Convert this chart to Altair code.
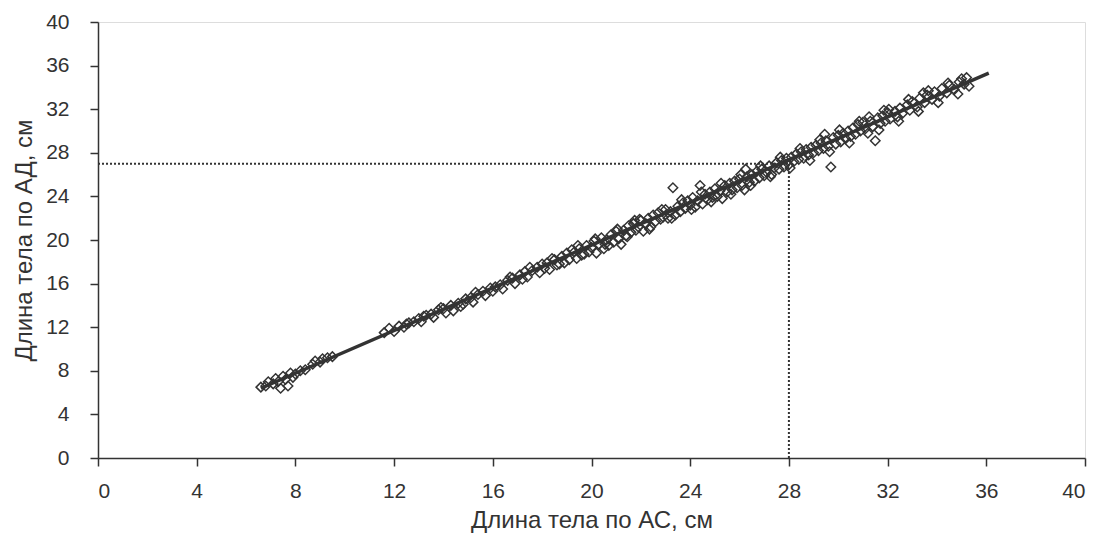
import altair as alt
import pandas as pd

# scatter points: length by AC (x), length by AD (y), cm
pts_x = [
    6.6, 6.8, 6.9, 7.1, 7.2, 7.3, 7.4, 7.5, 7.6, 7.7, 7.8, 7.9, 8.0, 8.2, 8.4, 8.7, 8.8, 9.0, 9.1, 9.3, 9.5,
    11.6, 11.8, 12.0, 12.2, 12.4, 12.6, 12.8, 13.0, 13.1, 13.3, 13.5, 13.6, 13.8, 14.0, 14.1, 14.3, 14.4, 14.6,
    14.7, 14.9, 15.1, 15.2, 15.4, 15.6, 15.7, 15.9, 16.1, 16.3, 16.4, 16.6, 16.8, 16.9, 17.1, 17.3, 17.4, 17.6,
    17.8, 17.9, 18.0,
    18.2, 18.3, 18.5, 18.6, 18.8, 18.9, 19.0, 19.1, 19.3, 19.4, 19.5, 19.6, 19.8, 19.9, 20.0, 20.1, 20.2, 20.3,
    20.4, 20.5, 20.6, 20.7, 20.8, 20.9, 21.0, 21.1, 21.2, 21.3, 21.4, 21.5, 21.6, 21.7, 21.8, 21.9, 22.0, 22.1,
    22.2, 22.3, 22.4, 22.5, 22.6, 22.7, 22.8, 22.9, 23.0, 23.1, 23.2, 23.3, 23.4, 23.5, 23.6, 23.7, 23.8, 23.9,
    24.0,
    24.1, 24.2, 24.3, 24.4, 24.5, 24.6, 24.7, 24.8, 24.9, 25.0, 25.1, 25.2, 25.3, 25.4, 25.5, 25.6, 25.7, 25.8,
    25.9, 26.0, 26.1, 26.2, 26.3, 26.4, 26.5, 26.6, 26.7, 26.8, 26.9, 27.0, 27.1, 27.2, 27.3, 27.4, 27.5, 27.6,
    27.7, 27.8, 27.9, 28.0, 28.1, 28.2, 28.3, 28.4, 28.5, 28.6, 28.7, 28.8, 28.9, 29.0, 29.1, 29.2, 29.3, 29.4,
    29.5, 29.6, 29.7, 29.8, 29.9, 30.0,
    30.1, 30.2, 30.3, 30.4, 30.5, 30.6, 30.7, 30.8, 30.9, 31.0, 31.1, 31.2, 31.3, 31.4, 31.5, 31.6, 31.7, 31.8,
    31.9, 32.0, 32.1, 32.3, 32.4, 32.5, 32.6, 32.8, 32.9, 33.0, 33.2, 33.3, 33.5, 33.6, 33.8, 33.9, 34.1, 34.2,
    34.4, 34.5, 34.7, 34.9, 35.1, 35.2, 35.3,
    12.5, 13.2, 13.9, 14.8, 15.3, 16.0, 16.7, 17.2, 18.1, 18.4, 18.7, 19.2, 19.7, 20.15, 20.55, 21.05, 21.45,
    21.95, 22.35, 22.85, 23.25, 23.65, 24.05, 24.45, 24.85, 25.25, 25.65, 26.05, 26.45, 26.85, 27.25, 27.65,
    28.05, 28.45, 28.85, 29.25, 29.65, 30.05, 30.45, 30.85, 31.25, 31.65, 32.05, 32.45, 32.85, 33.25, 33.65,
    34.05, 34.45, 34.85, 35.0, 17.5, 19.45, 21.75, 26.25, 29.45, 31.85, 33.45,
]
pts_y = [
    6.5, 6.6, 7.0, 6.8, 7.3, 7.0, 6.4, 7.5, 7.2, 6.6, 7.8, 7.4, 7.7, 8.0, 8.1, 8.6, 8.9, 8.8, 9.1, 9.2, 9.3,
    11.5, 11.9, 11.6, 12.1, 12.0, 12.4, 12.5, 12.8, 12.5, 13.1, 13.2, 12.9, 13.6, 13.7, 13.3, 14.0, 13.5, 14.2,
    13.9, 14.6, 14.7, 14.3, 15.0, 15.3, 14.9, 15.6, 15.7, 15.9, 15.5, 16.3, 16.5, 16.0, 16.8, 17.1, 16.6, 17.2,
    17.5, 17.0, 17.8,
    17.9, 17.3, 18.2, 17.7, 18.5, 17.9, 18.8, 18.2, 18.9, 18.3, 19.2, 18.6, 19.5, 18.9, 19.3, 19.9, 18.8, 19.6,
    20.2, 19.2, 20.0, 19.5, 20.5, 19.8, 20.8, 20.1, 19.6, 20.9, 20.4, 21.3, 20.7, 21.5, 20.9, 21.2, 21.8, 20.8,
    21.5, 22.0, 21.2, 22.3, 21.7, 22.5, 21.9, 22.1, 22.8, 22.0, 22.6, 24.8, 22.3, 23.1, 22.6, 23.4, 22.9, 23.6,
    23.2,
    23.9, 23.0, 23.6, 25.0, 23.3, 24.2, 23.7, 24.4, 23.9, 24.7, 24.0, 24.5, 23.8, 25.0, 24.4, 25.2, 24.6, 25.4,
    24.8, 25.6, 25.0, 24.6, 25.8, 25.3, 26.0, 25.4, 26.3, 25.7, 26.5, 25.9, 26.2, 26.8, 26.0, 26.6, 27.1, 26.5,
    27.3, 26.7, 27.5, 26.9, 27.6, 27.2, 27.9, 27.4, 28.1, 27.5, 28.3, 27.8, 28.5, 28.0, 28.7, 28.2, 28.9, 28.4,
    29.1, 28.6, 26.7, 29.4, 28.8, 29.6,
    29.0, 29.8, 29.3, 30.0, 29.5, 30.3, 29.7, 30.6, 30.0, 30.8, 30.2, 29.8, 30.9, 30.4, 29.1, 31.2, 30.7, 31.4,
    30.9, 31.7, 31.1, 31.8, 31.3, 32.1, 31.6, 32.4, 31.9, 32.7, 32.2, 33.0, 32.6, 33.3, 32.9, 33.6, 33.2, 33.9,
    33.5, 34.2, 33.8, 34.5, 34.3, 34.9, 34.1,
    12.3, 13.0, 13.8, 14.1, 15.2, 15.3, 16.6, 16.4, 17.4, 18.3, 17.8, 19.1, 18.7, 20.1, 19.6, 21.0, 20.3,
    21.9, 21.0, 22.8, 22.0, 23.7, 22.8, 24.4, 23.5, 25.2, 24.2, 26.0, 25.0, 26.8, 25.8, 27.6,
    26.6, 28.4, 27.3, 29.2, 28.1, 30.1, 28.9, 30.9, 31.3, 30.1, 32.0, 30.9, 32.9, 31.8, 33.7,
    32.6, 34.4, 33.4, 34.8, 17.5, 19.5, 21.8, 26.5, 29.7, 31.9, 33.5,
]

# regression line end points
line_x = [6.6, 36.1]
line_y = [6.4, 35.3]

# dotted reference at x = 28
ref_x = 28
ref_y = 27

ticks = [0, 4, 8, 12, 16, 20, 24, 28, 32, 36, 40]

pts = pd.DataFrame({"x": pts_x, "y": pts_y})
line = pd.DataFrame({"x": line_x, "y": line_y})
ref = pd.DataFrame({"x0": [0, ref_x], "x1": [ref_x, ref_x], "y0": [ref_y, 0], "y1": [ref_y, ref_y]})

ink = "#333333"
font = "Liberation Sans"

xscale = alt.Scale(domain=[0, 40], nice=False, zero=True)
yscale = alt.Scale(domain=[0, 40], nice=False, zero=True)

xaxis = alt.Axis(values=ticks, grid=False, tickSize=8, tickColor=ink, domainColor=ink, domainWidth=1.5,
                 tickWidth=1.5, labelFontSize=21, labelFont=font, labelColor=ink, labelPadding=14,
                 title="Длина тела по АС, см", titleFontSize=24, titleFont=font,
                 titleFontWeight="normal", titleColor=ink, titlePadding=7)
yaxis = alt.Axis(values=ticks, grid=False, tickSize=8, tickColor=ink, domainColor=ink, domainWidth=1.5,
                 tickWidth=1.5, labelFontSize=21, labelFont=font, labelColor=ink, labelPadding=21,
                 title="Длина тела по АД, см", titleFontSize=24, titleFont=font,
                 titleFontWeight="normal", titleColor=ink, titlePadding=9)

refs = alt.Chart(ref).mark_rule(color=ink, strokeDash=[2, 2], strokeWidth=2).encode(
    x=alt.X("x0:Q", scale=xscale, axis=xaxis),
    x2="x1:Q",
    y=alt.Y("y0:Q", scale=yscale, axis=yaxis),
    y2="y1:Q",
)

scatter = alt.Chart(pts).mark_point(shape="diamond", filled=False, size=90, color=ink,
                                    strokeWidth=1.5, opacity=1).encode(
    x=alt.X("x:Q", scale=xscale),
    y=alt.Y("y:Q", scale=yscale),
)

reg = alt.Chart(line).mark_line(color=ink, strokeWidth=3.5).encode(
    x=alt.X("x:Q", scale=xscale),
    y=alt.Y("y:Q", scale=yscale),
)

chart = alt.layer(refs, scatter, reg).properties(
    width=987, height=436,
    autosize=alt.AutoSizeParams(type="none"),
    padding={"left": 90, "top": 14, "right": 7, "bottom": 78},
).configure_view(stroke=None).configure(background="white")

chart.save("out.html", embed_options={"renderer": "svg", "actions": False})
